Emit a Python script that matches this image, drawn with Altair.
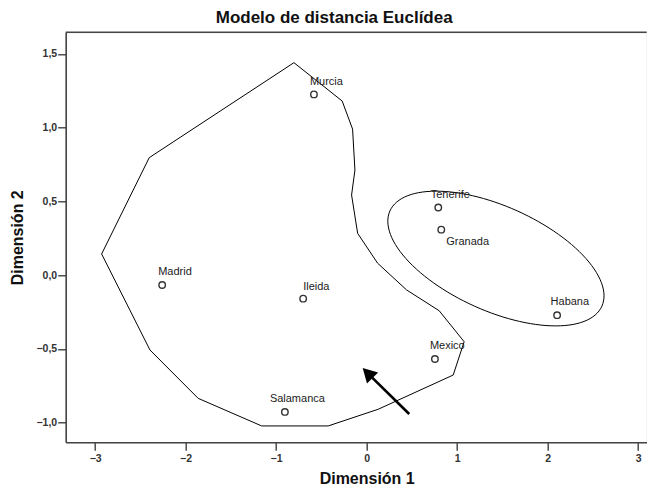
import numpy as np
import pandas as pd
import altair as alt

# ---------------- data ----------------
cities = ["Murcia", "Madrid", "Ileida", "Salamanca", "Mexico", "Tenerife", "Granada", "Habana"]
dim1 = [-0.582, -2.259, -0.701, -0.903, 0.755, 0.792, 0.825, 2.105]
dim2 = [1.226, -0.066, -0.159, -0.927, -0.568, 0.459, 0.309, -0.271]

# hand-drawn group outline (polygon) around the first group
poly_x = [-0.803, -0.270, -0.155, -0.129, -0.166, -0.099, 0.122, 0.442, 0.802, 1.078,
          0.957, 0.128, -0.424, -1.160, -1.861, -2.394, -2.928, -2.402]
poly_y = [1.441, 1.181, 0.991, 0.713, 0.544, 0.284, 0.081, -0.100, -0.241, -0.451,
          -0.677, -0.909, -1.022, -1.022, -0.835, -0.507, 0.144, 0.797]

# ellipse around the second group: centre and two conjugate half-axis vectors
ell_center = [1.429, 0.113]
ell_u = [1.171, -0.323]
ell_v = [-0.236, -0.323]

# arrow annotation (tail and head centre)
arrow_tail = [0.471, -0.941]
arrow_head = [0.025, -0.672]

x_ticks = [-3, -2, -1, 0, 1, 2, 3]
y_ticks = [-1.0, -0.5, 0.0, 0.5, 1.0, 1.5]

# label offsets (pixels) per city
label_offsets = {
    "Murcia": (-4, -12), "Madrid": (-4, -12.7), "Ileida": (0, -12),
    "Salamanca": (-15, -12.7), "Mexico": (-5, -13.3), "Tenerife": (-7.5, -12.5),
    "Granada": (5, 12), "Habana": (-6.5, -13.6),
}

FONT = "Liberation Sans"
FRAME = "#454545"
W, H = 581, 410

# ---------------- tables ----------------
pts = pd.DataFrame({"city": cities, "x": dim1, "y": dim2})

poly = pd.DataFrame({
    "x": poly_x + [poly_x[0]],
    "y": poly_y + [poly_y[0]],
    "o": list(range(len(poly_x) + 1)),
})

t = np.linspace(0, 2 * np.pi, 121)
ell = pd.DataFrame({
    "x": ell_center[0] + ell_u[0] * np.cos(t) + ell_v[0] * np.sin(t),
    "y": ell_center[1] + ell_u[1] * np.cos(t) + ell_v[1] * np.sin(t),
    "o": np.arange(len(t)),
})

arrow = pd.DataFrame({"x": [arrow_tail[0]], "y": [arrow_tail[1]],
                      "x2": [arrow_head[0]], "y2": [arrow_head[1]]})
head = pd.DataFrame({"x": [arrow_head[0]], "y": [arrow_head[1]]})

# ---------------- scales & axes ----------------
xs = alt.Scale(domain=[-3.325, 3.095], nice=False, zero=False)
ys = alt.Scale(domain=[-1.133, 1.647], nice=False, zero=False)

xaxis = alt.Axis(
    values=x_ticks, format="d", grid=False,
    domain=True, domainColor=FRAME, domainWidth=1.6,
    tickSize=8, tickColor="#333333", tickWidth=1.3,
    labelFont=FONT, labelFontSize=10.5, labelFontWeight="bold", labelColor="#333333",
    labelPadding=3,
    title="Dimensión 1", titleFont=FONT, titleFontSize=16, titleFontWeight="bold",
    titleColor="#111111", titleX=301, titleY=41.5, titleBaseline="alphabetic",
    titleAlign="center",
)
yaxis = alt.Axis(
    values=y_ticks, grid=False,
    domain=True, domainColor=FRAME, domainWidth=1.6,
    labelExpr="replace(format(datum.value, '.1f'), '.', ',')",
    tickSize=8, tickColor="#333333", tickWidth=1.3,
    labelFont=FONT, labelFontSize=10.5, labelFontWeight="bold", labelColor="#333333",
    labelPadding=1,
    title="Dimensión 2", titleFont=FONT, titleFontSize=16, titleFontWeight="bold",
    titleColor="#111111", titleX=-43, titleY=205, titleAngle=-90,
    titleBaseline="alphabetic", titleAlign="center",
)


def X(f="x"):
    return alt.X(f, type="quantitative", scale=xs, axis=xaxis)


def Y(f="y"):
    return alt.Y(f, type="quantitative", scale=ys, axis=yaxis)


# top edge of the plot frame
top_edge = alt.Chart(pd.DataFrame({"k": [0]})).mark_rule(
    color=FRAME, strokeWidth=1.6
).encode(x=alt.value(0), x2=alt.value(W), y=alt.value(0))

polygon = alt.Chart(poly).mark_line(color="#000000", strokeWidth=1).encode(
    x=X(), y=Y(), order="o:Q")

ellipse = alt.Chart(ell).mark_line(color="#000000", strokeWidth=1).encode(
    x=X(), y=Y(), order="o:Q")

shaft = alt.Chart(arrow).mark_rule(color="#000000", strokeWidth=2.6).encode(
    x=X(), y=Y(), x2="x2:Q", y2="y2:Q")

arrowhead = alt.Chart(head).mark_point(
    shape="M0,-1L0.9,0.6L-0.9,0.6Z", angle=315, filled=True, color="#000000",
    opacity=1, size=306, strokeWidth=0,
).encode(x=X(), y=Y())

points = alt.Chart(pts).mark_point(
    shape="circle", filled=False, size=42, color="#333333", strokeWidth=1.4, opacity=1
).encode(x=X(), y=Y())

labels = []
for c in cities:
    dx, dy = label_offsets[c]
    labels.append(
        alt.Chart(pts).transform_filter(alt.datum.city == c).mark_text(
            align="left", baseline="middle", dx=dx, dy=dy,
            font=FONT, fontSize=11, color="#1a1a1a",
        ).encode(x=X(), y=Y(), text="city:N")
    )

chart = alt.layer(polygon, ellipse, shaft, arrowhead, points, *labels, top_edge).properties(
    width=W,
    height=H,
    autosize=alt.AutoSizeParams(type="none"),
    padding={"left": 57.7, "top": 24.3, "right": 0, "bottom": 44.7},
    title=alt.TitleParams(
        "Modelo de distancia Euclídea", anchor="middle", frame="group",
        dx=-22, dy=15, offset=6.6, baseline="alphabetic",
        font=FONT, fontSize=17, fontWeight="bold", color="#111111",
    ),
).configure_view(
    fill="#F0F0F0", stroke="transparent", strokeWidth=0
).configure(background="#FFFFFF")

chart.save("out.html", embed_options={"renderer": "svg", "actions": False})
